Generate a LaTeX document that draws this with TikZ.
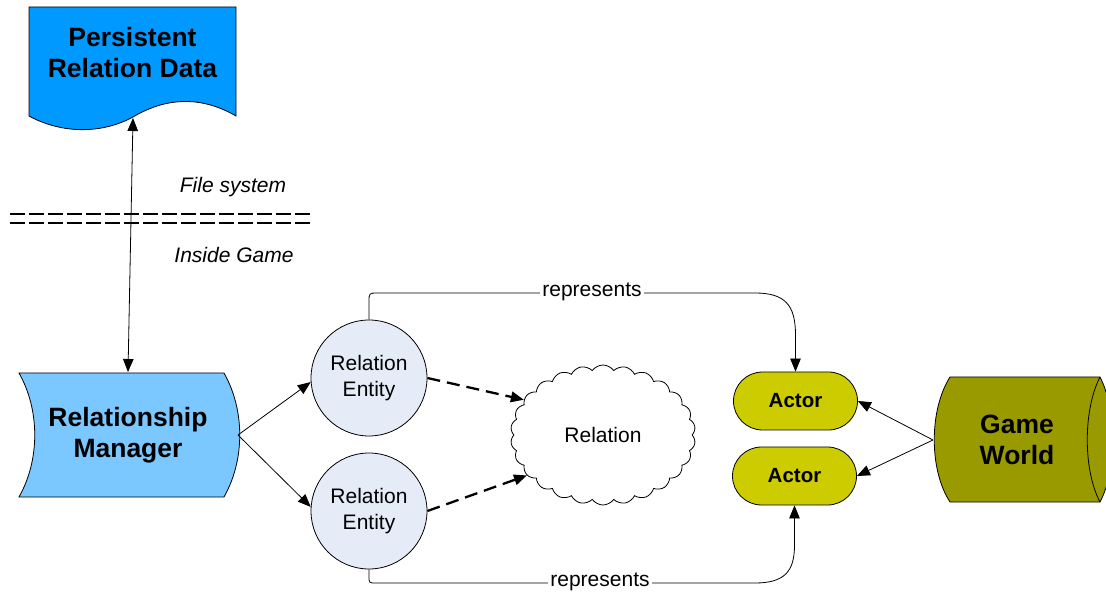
\documentclass[tikz,border=0pt]{standalone}
\usepackage{fontspec}
\setmainfont{Liberation Sans}
\usetikzlibrary{arrows.meta,shapes.symbols,shapes.misc}
\definecolor{prdblue}{RGB}{0,153,255}
\definecolor{rmblue}{RGB}{122,200,255}
\definecolor{entfill}{RGB}{230,236,247}
\definecolor{actorfill}{RGB}{204,204,0}
\definecolor{gwfill}{RGB}{153,153,0}
\begin{document}
\begin{tikzpicture}[x=1pt,y=-1pt,line width=0.8pt,
  tipend/.style={-{Triangle[length=13pt,width=10.5pt]}},
  tipboth/.style={{Triangle[length=13pt,width=10.5pt]}-{Triangle[length=13pt,width=10.5pt]}},
  dasharrow/.style={line width=2.3pt,dash pattern=on 13pt off 7pt,-{Triangle[length=13pt,width=10.5pt]}},
  sepline/.style={line width=2.3pt,dash pattern=on 14.5pt off 4.5pt},
  bigtext/.style={align=center,font=\bfseries\fontsize{26.5}{31}\selectfont},
  regtext/.style={align=center,font=\fontsize{21}{25.5}\selectfont},
  entity/.style={circle,draw,fill=entfill,minimum size=116pt,inner sep=0pt,regtext},
  actor/.style={rectangle,rounded corners=29pt,draw,fill=actorfill,minimum width=124pt,minimum height=58pt,inner sep=0pt,font=\bfseries\fontsize{20.5}{24}\selectfont},
  label/.style={fill=white,inner sep=2pt,regtext}]
\useasboundingbox (0,0) rectangle (1106,593);
\clip (0,0) rectangle (1106,593);

% Persistent Relation Data (document shape)
\draw[fill=prdblue] (29,7) -- (236,7) -- (236,116)
  .. controls (205,98) and (170,95) .. (133,117)
  .. controls (100,135) and (60,133) .. (29,116) -- cycle;
\node[bigtext] (prd) at (132.5,53) {Persistent\\Relation Data};
\coordinate (prdb) at (133,118);

% Relationship Manager
\draw[fill=rmblue] (19,373) -- (224,373)
  .. controls (245,410) and (245,460) .. (224,497) -- (19,497)
  .. controls (40,460) and (40,410) .. (19,373) -- cycle;
\node[bigtext] (rm) at (128,435) {Relationship\\Manager};
\coordinate (rmtop) at (128,372);
\coordinate (rmr) at (238,435);

% separator
\draw[sepline] (10,214) -- (313,214);
\draw[sepline] (10,223) -- (313,223);
\node[regtext,font=\itshape\fontsize{21}{25}\selectfont] (fs) at (233,187) {File system};
\node[regtext,font=\itshape\fontsize{21}{25}\selectfont] (ig) at (234,255) {Inside Game};

\draw[tipboth] (prdb) -- (rmtop);

% entities
\node[entity] (c1) at (369,378) {Relation\\Entity};
\node[entity] (c2) at (369,511) {Relation\\Entity};

% cloud
\node[cloud,draw,fill=white,cloud puffs=26,cloud puff arc=110,aspect=1.3,minimum width=185pt,minimum height=140pt,inner sep=0pt,regtext] (cl) at (603,435) {Relation};

\draw[tipend] (rmr) -- (c1.184);
\draw[tipend] (rmr) -- (c2.176);
\draw[dasharrow] (c1.east) -- (cl.156);
\draw[dasharrow] (c2.east) -- (cl.208);

% actors
\node[actor] (a1) at (795.5,401) {Actor};
\node[actor] (a2) at (794.5,476) {Actor};

% Game World
\draw[fill=gwfill] (950,377) -- (1100,377)
  .. controls (1117,410) and (1117,470) .. (1100,502) -- (950,502)
  .. controls (929,470) and (929,410) .. (950,377) -- cycle;
\draw (1100,377) .. controls (1083,410) and (1083,470) .. (1100,502);
\node[bigtext] (gw) at (1017,440) {Game\\World};
\coordinate (gwl) at (933,440);

\draw[tipend] (gwl) -- (a1.east);
\draw[tipend] (gwl) -- (a2.east);

% represents connectors
\draw[tipend] (c1.north) -- (369,302) .. controls (369,293) .. (378,293) -- (755,293)
  .. controls (785,293) and (795.5,305) .. (795.5,335) -- (a1.north);
\node[label] (r1) at (592,292) {represents};
\draw[tipend] (c2.south) -- (369,576) .. controls (369,583) .. (376,583) -- (755,583)
  .. controls (785,583) and (794.5,571) .. (794.5,545) -- (a2.south);
\node[label] (r2) at (600,582) {represents};
\end{tikzpicture}
\end{document}
